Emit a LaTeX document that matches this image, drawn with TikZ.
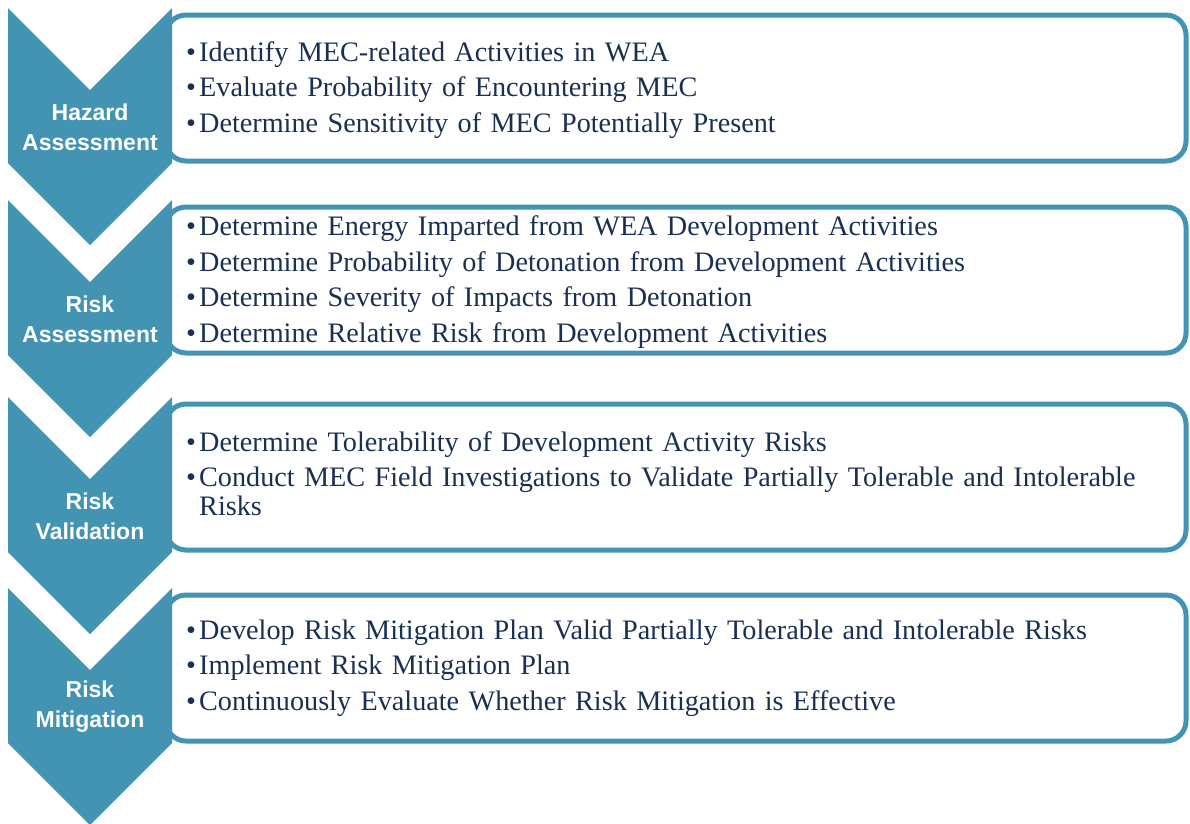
\documentclass[tikz,border=0pt]{standalone}
\usepackage{fontspec}
\setmainfont{Liberation Serif}
\setsansfont{Liberation Sans}
\usepackage{tikz}

\definecolor{chev}{RGB}{66,148,178}
\definecolor{navy}{RGB}{26,48,82}

% one bullet line with hanging indent
\newcommand{\itm}[1]{\par\noindent\hangindent=13pt\hangafter=1\makebox[13pt][l]{\textbullet}#1\par}

\begin{document}
\begin{tikzpicture}
	[
	 x = 1pt, y = -1pt,
	 box/.style = {draw = chev,
	               line width = 5pt,
	               rounded corners = 20pt,
	               fill = white,
	               minimum width = 1020pt,
	               minimum height = 146pt,
	               inner sep = 0pt,
	               outer sep = 0pt,
	               anchor = north west},
	 items/.style = {text width = 990pt,
	                 align = left,
	                 anchor = west,
	                 inner sep = 0pt,
	                 text = navy,
	                 font = \fontsize{28.2}{29}\selectfont\setlength{\parskip}{6.5pt}},
	 lbl/.style = {text = white,
	               align = center,
	               inner sep = 0pt,
	               font = \sffamily\bfseries\fontsize{23}{30}\selectfont}
	]
	
	\newcommand{\HAtext}{\itm{Identify MEC-related Activities in WEA}
		\itm{Evaluate Probability of Encountering MEC}
		\itm{Determine Sensitivity of MEC Potentially Present}}
	\newcommand{\RAtext}{\itm{Determine Energy Imparted from WEA Development Activities}
		\itm{Determine Probability of Detonation from Development Activities}
		\itm{Determine Severity of Impacts from Detonation}
		\itm{Determine Relative Risk from Development Activities}}
	\newcommand{\RVtext}{\itm{Determine Tolerability of Development Activity Risks}
		\itm{Conduct MEC Field Investigations to Validate Partially Tolerable and Intolerable Risks}}
	\newcommand{\RMtext}{\itm{Develop Risk Mitigation Plan Valid Partially Tolerable and Intolerable Risks}
		\itm{Implement Risk Mitigation Plan}
		\itm{Continuously Evaluate Whether Risk Mitigation is Effective}}
	
	\useasboundingbox (0,0) rectangle (1190,823);
	
	% boxes
	\node [box] (HAbox) at (166,15)  {};
	\node [box] (RAbox) at (166,207) {};
	\node [box] (RVbox) at (166,404) {};
	\node [box] (RMbox) at (166,595) {};
	
	% chevrons
	\fill [chev] (8,8)   -- (90,90)  -- (172,8)   -- (172,163) -- (90,245) -- (8,163) -- cycle;
	\fill [chev] (8,200) -- (90,282) -- (172,200) -- (172,355) -- (90,437) -- (8,355) -- cycle;
	\fill [chev] (8,397) -- (90,479) -- (172,397) -- (172,552) -- (90,634) -- (8,552) -- cycle;
	\fill [chev] (8,588) -- (90,670) -- (172,588) -- (172,743) -- (90,825) -- (8,743) -- cycle;
	
	\node [lbl] (HA) at (90,127) {Hazard\\Assessment};
	\node [lbl] (RA) at (90,319) {Risk\\Assessment};
	\node [lbl] (RV) at (90,516) {Risk\\Validation};
	\node [lbl] (RM) at (90,707) {Risk\\Mitigation};
	
	\node [items] (HAt) at (186,82)  {\HAtext};
	\node [items] (RAt) at (186,274) {\RAtext};
	\node [items] (RVt) at (186,466) {\RVtext};
	\node [items] (RMt) at (186,660) {\RMtext};
\end{tikzpicture}
\end{document}
